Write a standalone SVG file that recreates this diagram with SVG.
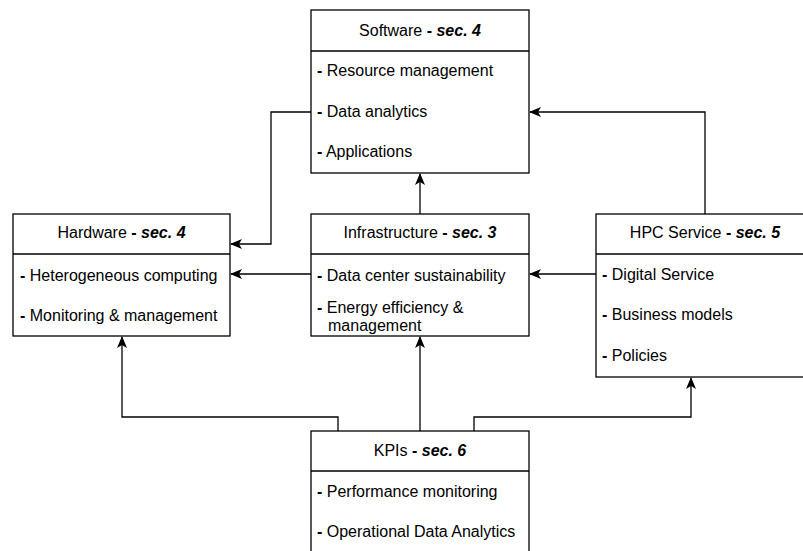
<svg xmlns="http://www.w3.org/2000/svg" width="803" height="551" viewBox="0 0 803 551">
<defs>
<style>
.box{fill:#fff;stroke:#000;stroke-width:1.3}
.sep{stroke:#000;stroke-width:1.3}
.h{font-family:"Liberation Sans",Arial,sans-serif;font-size:16px;fill:#000;text-anchor:middle}
.t{font-family:"Liberation Sans",Arial,sans-serif;font-size:16px;fill:#000}
.b{font-weight:bold}
.bi{font-weight:bold;font-style:italic}
.c{fill:none;stroke:#000;stroke-width:1.3;marker-end:url(#arr)}
</style>
<marker id="arr" viewBox="0 0 12 10" refX="11" refY="5" markerWidth="12" markerHeight="10" markerUnits="userSpaceOnUse" orient="auto">
<path d="M0,0 L12,5 L0,10 L3,5 Z" fill="#000"/>
</marker>
</defs>
<g id="connectors">
<path class="c" d="M311,112 H271 V244 H231"/>
<path class="c" d="M420,214 V174"/>
<path class="c" d="M311,274 H231"/>
<path class="c" d="M596,274 H530"/>
<path class="c" d="M705,214 V112 H530"/>
<path class="c" d="M338,431 V417 H122 V337"/>
<path class="c" d="M420,431 V337"/>
<path class="c" d="M474,431 V417 H691 V378"/>
</g>
<g id="software">
<rect class="box" x="311" y="10" width="218" height="163"/>
<line class="sep" x1="311" y1="51" x2="529" y2="51"/>
<text class="h" x="420" y="36">Software <tspan class="b">- </tspan><tspan class="bi">sec. 4</tspan></text>
<text class="t" x="317" y="76"><tspan class="b">-</tspan> Resource management</text>
<text class="t" x="317" y="117"><tspan class="b">-</tspan> Data analytics</text>
<text class="t" x="317" y="157"><tspan class="b">-</tspan> Applications</text>
</g>
<g id="hardware">
<rect class="box" x="13" y="214" width="217" height="122"/>
<line class="sep" x1="13" y1="254" x2="230" y2="254"/>
<text class="h" x="121.5" y="238">Hardware <tspan class="b">- </tspan><tspan class="bi">sec. 4</tspan></text>
<text class="t" x="20" y="281"><tspan class="b">-</tspan> Heterogeneous computing</text>
<text class="t" x="20" y="321"><tspan class="b">-</tspan> Monitoring &amp; management</text>
</g>
<g id="infrastructure">
<rect class="box" x="311" y="214" width="218" height="122"/>
<line class="sep" x1="311" y1="254" x2="529" y2="254"/>
<text class="h" x="420" y="238">Infrastructure <tspan class="b">- </tspan><tspan class="bi">sec. 3</tspan></text>
<text class="t" x="317" y="281"><tspan class="b">-</tspan> Data center sustainability</text>
<text class="t" x="317" y="313"><tspan class="b">-</tspan> Energy efficiency &amp;</text>
<text class="t" x="328" y="331">management</text>
</g>
<g id="hpc">
<rect class="box" x="596" y="214" width="218" height="163"/>
<line class="sep" x1="596" y1="254" x2="814" y2="254"/>
<text class="h" x="705" y="238">HPC Service <tspan class="b">- </tspan><tspan class="bi">sec. 5</tspan></text>
<text class="t" x="602" y="280"><tspan class="b">-</tspan> Digital Service</text>
<text class="t" x="602" y="320"><tspan class="b">-</tspan> Business models</text>
<text class="t" x="602" y="361"><tspan class="b">-</tspan> Policies</text>
</g>
<g id="kpis">
<rect class="box" x="311" y="431" width="218" height="140"/>
<line class="sep" x1="311" y1="471" x2="529" y2="471"/>
<text class="h" x="420" y="456">KPIs <tspan class="b">- </tspan><tspan class="bi">sec. 6</tspan></text>
<text class="t" x="317" y="497"><tspan class="b">-</tspan> Performance monitoring</text>
<text class="t" x="317" y="537"><tspan class="b">-</tspan> Operational Data Analytics</text>
</g>
</svg>
